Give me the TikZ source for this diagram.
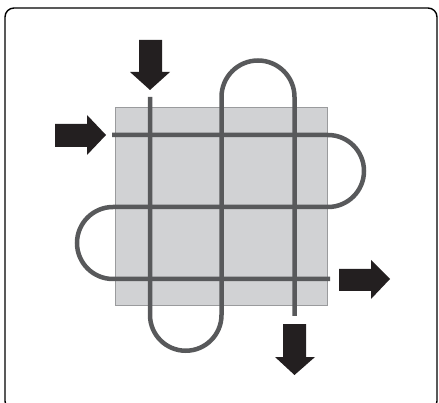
\documentclass[tikz,border=0pt]{standalone}
\definecolor{pipe}{HTML}{58595B}
\definecolor{slab}{HTML}{D1D2D4}
\definecolor{slabedge}{HTML}{9A9B9D}
\definecolor{arrowblk}{HTML}{231F20}
\tikzset{
  pipeline/.style={draw=pipe, line width=4.5pt},
  bigarrow/.style={fill=arrowblk, draw=none},
  frame/.style={draw=black, line width=1.4pt, rounded corners=9pt}
}
\begin{document}
\begin{tikzpicture}[x=1pt,y=-1pt]
\useasboundingbox (0,0) rectangle (439,403);
\begin{scope}
\clip (0,0) rectangle (439,403);
\draw[frame] (5,8) rectangle (437,410);
\end{scope}
% slab
\draw[fill=slab, draw=slabedge, line width=0.8pt] (115,107) rectangle (327,305);
% horizontal serpentine
\coordinate (h0) at (112,135);
\draw[pipeline] (h0) -- (328,135) arc[start angle=-90, end angle=90, radius=36] -- (113,207)
  arc[start angle=270, end angle=90, radius=36] -- (330,279);
% vertical serpentine
\coordinate (v0) at (150,97);
\draw[pipeline] (v0) -- (150,315) arc[start angle=180, end angle=0, radius=35.75] -- (221.5,97)
  arc[start angle=180, end angle=360, radius=36.5] -- (294.5,316);
% arrows
\fill[bigarrow] (139,40) -- (162,40) -- (162,72) -- (170,72) -- (150,90) -- (130,72) -- (139,72) -- cycle;
\fill[bigarrow] (55,124) -- (87,124) -- (87,115) -- (106,135) -- (87,155) -- (87,147) -- (55,147) -- cycle;
\fill[bigarrow] (339,269) -- (371,269) -- (371,260) -- (390,279) -- (371,299) -- (371,291) -- (339,291) -- cycle;
\fill[bigarrow] (283,324) -- (306,324) -- (306,357) -- (315,357) -- (294.5,375) -- (275,357) -- (283,357) -- cycle;
\end{tikzpicture}
\end{document}
